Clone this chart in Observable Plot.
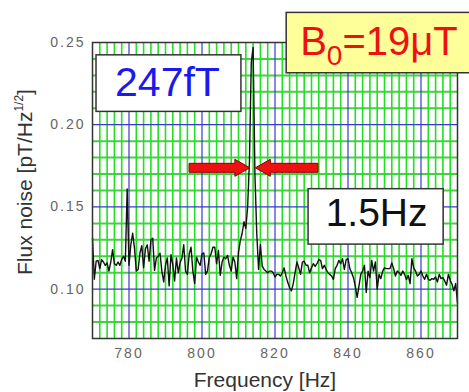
<!DOCTYPE html>
<html>
<head>
<meta charset="utf-8">
<script src="https://cdn.jsdelivr.net/npm/d3@7"></script>
<script src="https://cdn.jsdelivr.net/npm/@observablehq/plot@0.6"></script>
<style>
  html, body { margin: 0; padding: 0; background: #fff; }
  #chart { width: 469px; height: 392px; overflow: hidden; }
  svg { display: block; }
</style>
</head>
<body>
<div id="chart"></div>
<script>
// ---- data ----
const freqStart = 770;   // Hz, first sample
const freqStep = 0.5;    // Hz, sample spacing
const flux = [
  0.131, 0.106, 0.117, 0.1175, 0.1125, 0.118, 0.1165, 0.1145, 0.116, 0.111,
  0.1165, 0.124, 0.1155, 0.1145, 0.1165, 0.1145, 0.118, 0.120, 0.117, 0.161,
  0.1145, 0.127, 0.134, 0.125, 0.111, 0.112, 0.122, 0.1265, 0.113, 0.1245,
  0.127, 0.117, 0.130, 0.131, 0.1114, 0.119, 0.120, 0.122, 0.111, 0.1044,
  0.1145, 0.119, 0.102, 0.121, 0.115, 0.105, 0.119, 0.110, 0.116, 0.119,
  0.127, 0.111, 0.109, 0.1215, 0.1255, 0.111, 0.1034, 0.1195, 0.1165, 0.1145,
  0.1215, 0.122, 0.109, 0.111, 0.1195, 0.1215, 0.1255, 0.1255, 0.1155, 0.1235,
  0.1084, 0.1165, 0.1195, 0.1185, 0.1205, 0.1145, 0.111, 0.1195, 0.1165, 0.1064,
  0.1225, 0.1295, 0.134, 0.141, 0.137, 0.150, 0.178, 0.238, 0.247, 0.170,
  0.134, 0.112, 0.127, 0.114, 0.112, 0.111, 0.110, 0.111, 0.111, 0.110,
  0.1074, 0.109, 0.109, 0.108, 0.110, 0.113, 0.108, 0.104, 0.101, 0.099,
  0.1034, 0.110, 0.1165, 0.113, 0.109, 0.1165, 0.117, 0.1145, 0.1145, 0.110,
  0.113, 0.1155, 0.1138, 0.1155, 0.118, 0.1175, 0.1125, 0.1145, 0.112, 0.110,
  0.109, 0.108, 0.106, 0.1125, 0.1145, 0.1175, 0.1155, 0.1185, 0.112, 0.118,
  0.1185, 0.1125, 0.110, 0.107, 0.1018, 0.095, 0.1018, 0.109, 0.111, 0.1145,
  0.098, 0.111, 0.107, 0.1175, 0.111, 0.1165, 0.100, 0.109, 0.1064, 0.111,
  0.113, 0.1125, 0.1125, 0.1125, 0.116, 0.1125, 0.108, 0.111, 0.110, 0.1084,
  0.111, 0.109, 0.1058, 0.1084, 0.1034, 0.1185, 0.113, 0.111, 0.108, 0.109,
  0.111, 0.108, 0.106, 0.109, 0.106, 0.1054, 0.1064, 0.106, 0.1074, 0.1044,
  0.109, 0.1064, 0.107, 0.105, 0.1024, 0.109, 0.1054, 0.103, 0.099, 0.1034,
  0.0914
];
const xTicks = [780, 800, 820, 840, 860];
const yTicks = [0.10, 0.15, 0.20, 0.25];
const xLabel = "Frequency [Hz]";
const yLabel = "Flux noise [pT/Hz";
const yLabelSup = "1/2";
const peakLabel = "247fT";
const widthLabel = "1.5Hz";
const fieldLabel = ["B", "0", "=19\u03bcT"];

// peak / linewidth annotation (data units)
const peakFreq = 814;
const lineWidthHz = 1.5;
const arrowLevel = 0.1735;

// ---- derived ----
const data = flux.map((v, i) => ({f: freqStart + i * freqStep, v}));
const xMinor = d3.range(772, 870, 2).filter(d => !xTicks.includes(d));
const yMinor = d3.range(8, 25).map(d => d / 100).filter(d => !yTicks.some(t => Math.abs(t - d) < 1e-9));

const font = "'Liberation Sans', Arial, Helvetica, sans-serif";

const chart = Plot.plot({
  width: 469,
  height: 392,
  marginLeft: 92,
  marginTop: 42,
  marginRight: 12,
  marginBottom: 54,
  style: {fontFamily: font, fontSize: "14px", color: "#666", background: "#fff"},
  x: {domain: [770, 870]},
  y: {domain: [0.07, 0.25]},
  marks: [
    Plot.ruleY(yMinor, {stroke: "#4ccc4c", strokeWidth: 2}),
    Plot.ruleX(xMinor, {stroke: "#22e022", strokeWidth: 1.6}),
    Plot.ruleY(yTicks.filter(d => d < 0.25), {stroke: "#3a3acc", strokeWidth: 1.2}),
    Plot.ruleX(xTicks, {stroke: "#3a3acc", strokeWidth: 1.2}),
    Plot.line(data, {x: "f", y: "v", stroke: "#111", strokeWidth: 1.4}),
    Plot.frame({stroke: "#333", strokeWidth: 1.5}),
    Plot.axisX(xTicks, {tickSize: 0, tickPadding: 10, label: null, fill: "#666", fontSize: 14}),
    Plot.axisY(yTicks, {tickSize: 0, tickPadding: 7, label: null, tickFormat: d3.format(".2f"), fill: "#666", fontSize: 14})
  ]
});

document.getElementById("chart").appendChild(chart);

const sx = chart.scale("x"), sy = chart.scale("y");
const X = v => sx.apply(v), Y = v => sy.apply(v);
const svg = d3.select(chart);
svg.selectAll("[aria-label='x-axis tick label'] text, [aria-label='y-axis tick label'] text")
  .style("letter-spacing", "2px");

// axis titles
svg.append("text")
  .attr("x", 265).attr("y", 387)
  .attr("text-anchor", "middle")
  .attr("font-family", font).attr("font-size", 21).attr("fill", "#333")
  .text(xLabel);
const yl = svg.append("text")
  .attr("transform", "translate(32,275) rotate(-90)")
  .attr("text-anchor", "start")
  .attr("font-family", font).attr("font-size", 21).attr("fill", "#333");
yl.append("tspan").text(yLabel);
yl.append("tspan").attr("font-size", 12).attr("dy", -9).text(yLabelSup);
yl.append("tspan").attr("dy", 9).text("]");

// linewidth arrows
function arrow(tail, tip) {
  const yc = Y(arrowLevel), xt = X(tail), xh = X(tip);
  const dir = Math.sign(xh - xt), hl = 15, bh = 4.5, hh = 8.5;
  const xb = xh - dir * hl;
  const pts = [[xt, yc - bh], [xb, yc - bh], [xb, yc - hh], [xh, yc], [xb, yc + hh], [xb, yc + bh], [xt, yc + bh]];
  svg.append("polygon").attr("points", pts.map(p => p.join(",")).join(" "))
    .attr("fill", "#ee1111").attr("stroke", "#8a0000").attr("stroke-width", 1);
}
arrow(796.6, peakFreq - lineWidthHz / 2);
arrow(831.9, peakFreq + lineWidthHz / 2);

// text boxes
function box(f0, f1, v0, v1, fill) {
  const x0 = X(f0), x1 = X(f1), y0 = Y(v0), y1 = Y(v1);
  svg.append("rect").attr("x", x0).attr("y", y0).attr("width", x1 - x0).attr("height", y1 - y0)
    .attr("fill", fill).attr("stroke", "#333").attr("stroke-width", 1.5);
  return {x0, x1, y0, y1};
}
const b1 = box(771.1, 810.8, 0.2422, 0.2078, "#fff");
svg.append("text").attr("x", (b1.x0 + b1.x1) / 2 - 1).attr("y", b1.y0 + 41)
  .attr("text-anchor", "middle").attr("font-family", font).attr("font-size", 41)
  .attr("fill", "#1a1aee").text(peakLabel);

const b2 = box(823.2, 876, 0.268, 0.2313, "#ffff99");
const t2 = svg.append("text").attr("x", b2.x0 + 14).attr("y", b2.y0 + 43)
  .attr("text-anchor", "start")
  .attr("font-family", font).attr("font-size", 40).attr("fill", "#ee1111");
t2.append("tspan").text(fieldLabel[0]);
t2.append("tspan").attr("font-size", 28).attr("dy", 10).text(fieldLabel[1]);
t2.append("tspan").attr("dy", -10).text(fieldLabel[2]);

const b3 = box(829.2, 866.2, 0.1608, 0.1271, "#fff");
svg.append("text").attr("x", (b3.x0 + b3.x1) / 2 + 1).attr("y", b3.y0 + 37)
  .attr("text-anchor", "middle").attr("font-family", font).attr("font-size", 39)
  .attr("fill", "#111").text(widthLabel);
</script>
</body>
</html>
